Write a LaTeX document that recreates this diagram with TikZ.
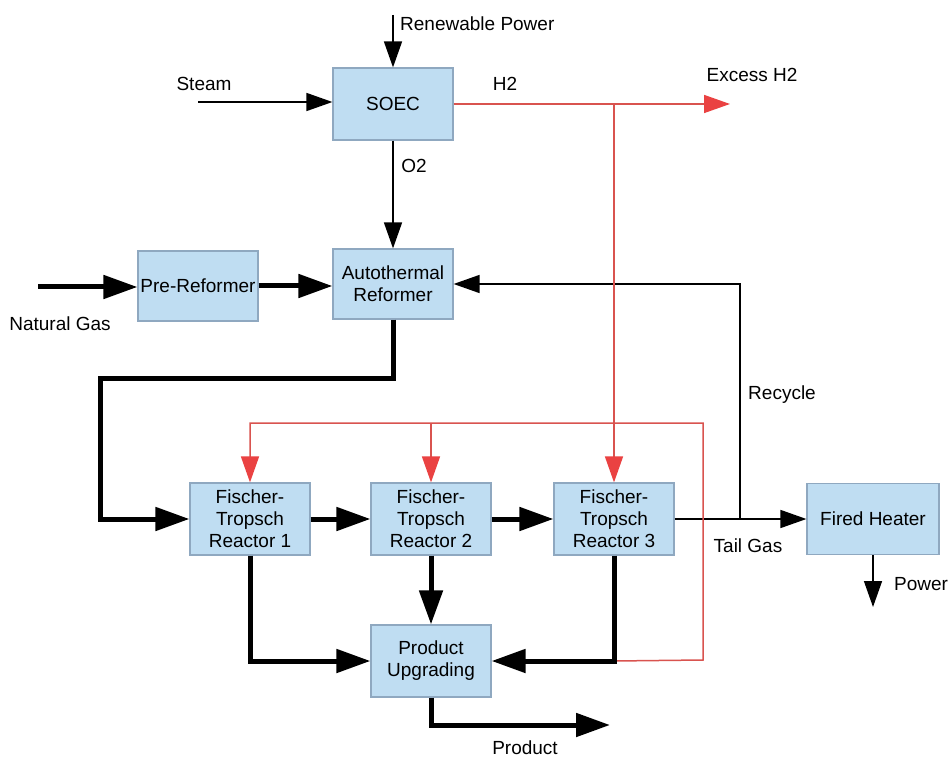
\documentclass[tikz,border=0pt]{standalone}
\usepackage{fontspec}
\setmainfont{Liberation Sans}
\usetikzlibrary{arrows.meta}
\definecolor{boxfill}{HTML}{BFDDF2}
\definecolor{boxborder}{HTML}{8FA8C0}
\definecolor{redline}{HTML}{D9534F}
\definecolor{redhead}{HTML}{EA4242}
\newcommand{\lblfont}{\fontsize{19pt}{22pt}\selectfont}
\begin{document}
\begin{tikzpicture}[x=1pt,y=-1pt,
  unit/.style={draw=boxborder, fill=boxfill, line width=1.2pt, minimum width=120pt, minimum height=72pt, align=center, inner sep=0pt, font=\lblfont},
  lbl/.style={font=\lblfont, inner sep=0pt},
  thinflow/.style={line width=1.5pt, -{Triangle[length=26pt,width=18pt]}},
  thickflow/.style={line width=5pt, -{Triangle[length=34pt,width=23pt]}},
  redflow/.style={draw=redline, line width=1.5pt, -{Triangle[length=26pt,width=18pt,color=redhead]}}]
\useasboundingbox (0,0) rectangle (950,759);
\fill[white] (0,0) rectangle (950,759);

% units
\node[unit] (soec) at (393,104) {SOEC};
\node[unit, minimum height=70pt] (atr) at (393,284) {Autothermal\\Reformer};
\node[unit, minimum height=70pt] (pre) at (198,286) {Pre-Reformer};
\node[unit] (ft1) at (250,519) {Fischer-\\Tropsch\\Reactor 1};
\node[unit] (ft2) at (431,519) {Fischer-\\Tropsch\\Reactor 2};
\node[unit] (ft3) at (614,519) {Fischer-\\Tropsch\\Reactor 3};
\node[unit, minimum width=132pt, minimum height=71pt] (fh) at (873,519) {Fired Heater};
\node[unit] (pu) at (431,661) {Product\\Upgrading};

% free ends
\coordinate (rp) at (393,15);
\coordinate (st) at (198,102);
\coordinate (xh) at (730,104);
\coordinate (ng) at (38,287);
\coordinate (pw) at (873,607);
\coordinate (pr) at (610,725);
\coordinate (jh) at (614,104);
\coordinate (jt) at (740,519);
\coordinate (rc) at (740,284);
\coordinate (rd1) at (703,660);
\coordinate (rd2) at (703,423);
\coordinate (rd3) at (250,423);

% labels
\node[lbl, anchor=west] (lrp) at (400,24) {Renewable Power};
\node[lbl] (lst) at (204,84) {Steam};
\node[lbl] (lh2) at (505,84) {H2};
\node[lbl] (lxh) at (752,75) {Excess H2};
\node[lbl] (lo2) at (414,166) {O2};
\node[lbl] (lng) at (60,324) {Natural Gas};
\node[lbl] (lrc) at (782,395) {Recycle};
\node[lbl] (ltg) at (748,546) {Tail Gas};
\node[lbl] (lpw) at (921,584) {Power};
\node[lbl] (lpr) at (525,748) {Product};

% thin black flows
\draw[thinflow] (rp) -- (soec.north);
\draw[thinflow] (st) -- (st -| soec.west);
\draw[thinflow] (soec.south) -- (atr.north);
\draw[thinflow] (jt) -- (rc) -- (atr.east);
\draw[thinflow] (ft3.east) -- (fh.west);
\draw[thinflow] (fh.south) -- (pw);

% red hydrogen
\draw[redflow] (soec.east) -- (xh);
\draw[redflow] (jh) -- (ft3.north);
\draw[redflow] (ft3.south |- pu.east) -- (rd1) -- (rd2) -- (rd3) -- (ft1.north);
\draw[redflow] (ft2.north |- rd2) -- (ft2.north);

% thick flows
\draw[thickflow] (ng) -- (ng -| pre.west);
\draw[thickflow] (pre.east) -- (pre.east -| atr.west);
\draw[thickflow] (atr.south) |- (100,378) -- (100,519) -- (ft1.west);
\draw[thickflow] (ft1.east) -- (ft2.west);
\draw[thickflow] (ft2.east) -- (ft3.west);
\draw[thickflow] (ft1.south) |- (pu.west);
\draw[thickflow] (ft2.south) -- (pu.north);
\draw[thickflow] (ft3.south) |- (pu.east);
\draw[thickflow] (pu.south) |- (pr);
\end{tikzpicture}
\end{document}
